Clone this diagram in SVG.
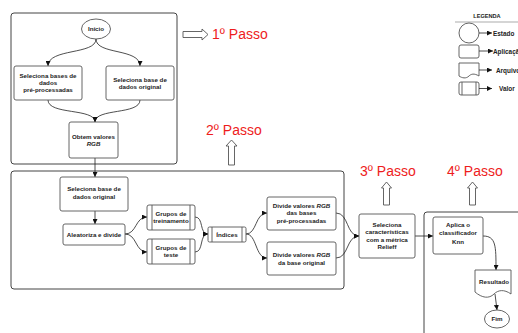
<svg xmlns="http://www.w3.org/2000/svg" width="518" height="333" viewBox="0 0 518 333">
<style>
.frame{fill:none;stroke:#444;stroke-width:1}
.n{fill:#fff;stroke:#555;stroke-width:0.9}
.t{font-family:"Liberation Sans",Arial,sans-serif;font-weight:bold;font-size:6.2px;fill:#222;text-anchor:middle}
.lg{font-family:"Liberation Sans",Arial,sans-serif;font-weight:bold;font-size:6.4px;fill:#222}
.step{font-family:"Liberation Sans",Arial,sans-serif;font-size:14px;fill:#ee1c1c}
.blk{fill:#fff;stroke:#555;stroke-width:0.9;stroke-linejoin:round}
.c{fill:none;stroke:#222;stroke-width:0.8;marker-end:url(#a)}
</style>
<defs>
<marker id="a" viewBox="0 0 10 10" refX="10" refY="5" markerWidth="5" markerHeight="5" orient="auto" markerUnits="userSpaceOnUse"><path d="M0,0 L10,5 L0,10 z" fill="#111"/></marker>
</defs>
<rect width="518" height="333" fill="#fff"/>

<g id="frames">
<rect class="frame" x="11" y="13" width="166" height="151" rx="3"/>
<rect class="frame" x="11" y="171" width="333" height="118" rx="3"/>
<path class="frame" d="M424,335 V215 Q424,212 427,212 H520"/>
</g>

<g id="steps">
<path class="blk" d="M183,31.5 H202 V29 L208,34.5 L202,40 V37.5 H183 Z"/>
<text class="step" x="212" y="39">1º Passo</text>
<path class="blk" d="M228.5,165 V146 H226 L231.5,140 L237,146 H234.5 V165 Z"/>
<text class="step" x="206" y="135">2º Passo</text>
<path class="blk" d="M383.5,205 V188 H381.5 L386.5,182 L391.5,188 H389.5 V205 Z"/>
<text class="step" x="360" y="176">3º Passo</text>
<path class="blk" d="M469.5,205 V188 H467.5 L472.5,182 L477.5,188 H475.5 V205 Z"/>
<text class="step" x="447" y="176">4º Passo</text>
</g>

<g id="legend">
<text class="lg" x="487" y="18" text-anchor="middle" style="font-size:5.6px">LEGENDA</text>
<line x1="455" y1="22" x2="518" y2="22" stroke="#888" stroke-width="0.7"/>
<circle class="n" cx="469" cy="33" r="10"/>
<rect class="n" x="459" y="45" width="20" height="13" rx="2"/>
<path class="n" d="M459,63 H479 V76 C474,73 471,74 469,76 C466,79 462,78 459,76 Z"/>
<rect class="n" x="459" y="82" width="20" height="13" rx="2"/>
<line x1="462" y1="82" x2="462" y2="95" stroke="#555" stroke-width="0.9"/>
<line x1="476" y1="82" x2="476" y2="95" stroke="#555" stroke-width="0.9"/>
<line class="c" x1="479" y1="33" x2="492" y2="33"/>
<line class="c" x1="479" y1="51" x2="493" y2="51"/>
<line class="c" x1="479" y1="70" x2="492" y2="70"/>
<line class="c" x1="479" y1="88.5" x2="492" y2="88.5"/>
<text class="lg" x="493" y="35.5">Estado</text>
<text class="lg" x="493" y="53.5">Aplicação</text>
<text class="lg" x="496" y="72.5">Arquivo</text>
<text class="lg" x="499" y="91">Valor</text>
</g>

<g id="connectors">
<path class="c" d="M96,39 C96,55 48,48 48,66"/>
<path class="c" d="M96,39 C96,55 140,48 140,66"/>
<path class="c" d="M48,100 C48,115 95,108 95,122"/>
<path class="c" d="M140,100 C140,115 95,108 95,122"/>
<path class="c" d="M95,158 L95,177"/>
<path class="c" d="M95,211 L95,224"/>
<path class="c" d="M125,234 C137,234 135,217 147,217"/>
<path class="c" d="M125,234 C137,234 135,252 147,252"/>
<path class="c" d="M195,217 C204,217 199,234 208,234"/>
<path class="c" d="M195,252 C204,252 199,234 208,234"/>
<path class="c" d="M246,234 C257,234 255,213 267,213"/>
<path class="c" d="M246,234 C257,234 255,258 267,258"/>
<path class="c" d="M336,213 C349,213 346,236 359,236"/>
<path class="c" d="M336,258 C349,258 346,236 359,236"/>
<path class="c" d="M415,236 L433,236"/>
<path class="c" d="M483,236 C496,236 496,246 496,270"/>
<path class="c" d="M495,294 L497,310"/>
</g>

<g id="inicio">
<ellipse class="n" cx="96" cy="29" rx="14.5" ry="10"/>
<text class="t" x="96" y="31">Início</text>
</g>
<g id="sel-pre">
<rect class="n" x="14" y="66" width="68" height="34" rx="2"/>
<text class="t" x="48" y="78">Seleciona bases de</text>
<text class="t" x="48" y="85">dados</text>
<text class="t" x="48" y="92">pré-processadas</text>
</g>
<g id="sel-orig1">
<rect class="n" x="106" y="66" width="68" height="34" rx="2"/>
<text class="t" x="140" y="81.5">Seleciona base de</text>
<text class="t" x="140" y="88.5">dados original</text>
</g>
<g id="obtem">
<rect class="n" x="69" y="122" width="49" height="36" rx="2"/>
<text class="t" x="93.5" y="139">Obtem valores</text>
<text class="t" x="93.5" y="146" font-style="italic">RGB</text>
</g>
<g id="sel-orig2">
<rect class="n" x="60" y="177" width="68" height="34" rx="2"/>
<text class="t" x="94" y="191">Seleciona base de</text>
<text class="t" x="94" y="199">dados original</text>
</g>
<g id="aleatoriza">
<rect class="n" x="63" y="224" width="62" height="21" rx="2"/>
<text class="t" x="94" y="237">Aleatoriza e divide</text>
</g>
<g id="treino">
<rect class="n" x="147" y="205" width="48" height="25" rx="2"/>
<line x1="152" y1="205" x2="152" y2="230" stroke="#555" stroke-width="0.9"/>
<line x1="190" y1="205" x2="190" y2="230" stroke="#555" stroke-width="0.9"/>
<text class="t" x="171" y="215.5">Grupos de</text>
<text class="t" x="171" y="222.5">treinamento</text>
</g>
<g id="teste">
<rect class="n" x="147" y="239" width="48" height="25" rx="2"/>
<line x1="152" y1="239" x2="152" y2="264" stroke="#555" stroke-width="0.9"/>
<line x1="190" y1="239" x2="190" y2="264" stroke="#555" stroke-width="0.9"/>
<text class="t" x="171" y="249.5">Grupos de</text>
<text class="t" x="171" y="257">teste</text>
</g>
<g id="indices">
<rect class="n" x="208" y="227" width="38" height="15" rx="1.5"/>
<line x1="212" y1="227" x2="212" y2="242" stroke="#555" stroke-width="0.9"/>
<line x1="242" y1="227" x2="242" y2="242" stroke="#555" stroke-width="0.9"/>
<text class="t" x="227" y="236.5">Índices</text>
</g>
<g id="div-pre">
<rect class="n" x="267" y="197" width="69" height="33" rx="2"/>
<text class="t" x="301.5" y="207.5">Divide valores <tspan font-style="italic">RGB</tspan></text>
<text class="t" x="301.5" y="215">das bases</text>
<text class="t" x="301.5" y="222.5">pré-processadas</text>
</g>
<g id="div-orig">
<rect class="n" x="267" y="242" width="69" height="33" rx="2"/>
<text class="t" x="301.5" y="257">Divide valores <tspan font-style="italic">RGB</tspan></text>
<text class="t" x="301.5" y="264.5">da base original</text>
</g>
<g id="relieff">
<rect class="n" x="359" y="214" width="56" height="44" rx="2"/>
<text class="t" x="387" y="226.5">Seleciona</text>
<text class="t" x="387" y="234">características</text>
<text class="t" x="387" y="241.5">com a métrica</text>
<text class="t" x="387" y="249">Relieff</text>
</g>
<g id="knn">
<rect class="n" x="433" y="217" width="50" height="37" rx="2"/>
<text class="t" x="458" y="226.5">Aplica o</text>
<text class="t" x="458" y="235">classificador</text>
<text class="t" x="458" y="243.5">Knn</text>
</g>
<g id="resultado">
<path class="n" d="M475,270 H511 V294 C504,289 498,290 494,294 C489,299 482,298 475,292 Z"/>
<text class="t" x="494" y="283.5">Resultado</text>
</g>
<g id="fim">
<ellipse class="n" cx="497" cy="319" rx="12.5" ry="9"/>
<text class="t" x="497" y="321">Fim</text>
</g>
</svg>
